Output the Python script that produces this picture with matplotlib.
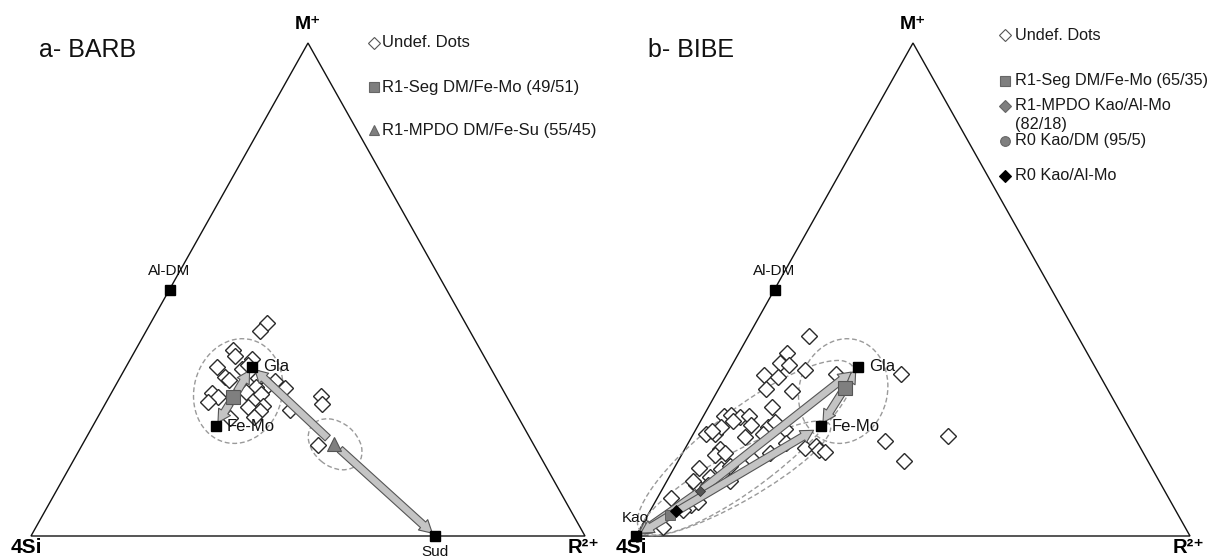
import matplotlib
matplotlib.use("Agg")
import matplotlib.pyplot as plt
from matplotlib.patches import Ellipse, FancyArrowPatch, Polygon

plt.rcParams['font.family'] = ['Liberation Sans', 'DejaVu Sans']

# ---------------- data (ternary fractions: M+ and R2+ ; 4Si = 1 - M - R) ----------------
# Panel a - BARB
barb_undef_m = [0.433, 0.416, 0.377, 0.365, 0.360, 0.343, 0.338, 0.347, 0.322, 0.316,
                0.320, 0.315, 0.306, 0.300, 0.302, 0.293, 0.291, 0.281, 0.272, 0.289,
                0.262, 0.264, 0.254, 0.256, 0.242, 0.239, 0.284, 0.268, 0.185]
barb_undef_r = [0.210, 0.206, 0.177, 0.186, 0.219, 0.164, 0.212, 0.218, 0.189, 0.200,
                0.249, 0.283, 0.274, 0.309, 0.255, 0.242, 0.182, 0.197, 0.183, 0.270,
                0.261, 0.287, 0.287, 0.340, 0.281, 0.239, 0.381, 0.391, 0.425]
barb_end_names = ["Al-DM", "Gla", "Fe-Mo", "Sud"]
barb_end_m = [0.500, 0.343, 0.223, 0.000]
barb_end_r = [0.000, 0.227, 0.222, 0.730]
barb_seg = (0.281, 0.225)      # R1-Seg DM/Fe-Mo (49/51)
barb_mpdo = (0.187, 0.453)     # R1-MPDO DM/Fe-Su (55/45)

# Panel b - BIBE
bibe_undef_m = [0.406, 0.371, 0.351, 0.347, 0.327, 0.323, 0.337, 0.329, 0.329, 0.298,
                0.294, 0.262, 0.243, 0.245, 0.241, 0.243, 0.225, 0.207, 0.207, 0.221,
                0.221, 0.231, 0.217, 0.201, 0.207, 0.189, 0.179, 0.183, 0.174, 0.170,
                0.193, 0.203, 0.152, 0.177, 0.164, 0.138, 0.136, 0.120, 0.154, 0.168,
                0.112, 0.103, 0.112, 0.077, 0.063, 0.069, 0.018, 0.053, 0.142, 0.213,
                0.233, 0.103, 0.168]
bibe_undef_r = [0.110, 0.087, 0.084, 0.103, 0.068, 0.095, 0.137, 0.197, 0.314, 0.086,
                0.135, 0.115, 0.037, 0.049, 0.067, 0.082, 0.095, 0.023, 0.039, 0.043,
                0.128, 0.135, 0.160, 0.096, 0.126, 0.176, 0.216, 0.234, 0.243, 0.256,
                0.353, 0.462, 0.408, 0.063, 0.060, 0.045, 0.085, 0.074, 0.134, 0.158,
                0.114, 0.057, 0.047, 0.025, 0.068, 0.077, 0.040, 0.058, 0.099, 0.031,
                0.058, 0.078, 0.076]
bibe_end_names = ["Al-DM", "Gla", "Fe-Mo", "Kao"]
bibe_end_m = [0.500, 0.343, 0.223, 0.000]
bibe_end_r = [0.000, 0.229, 0.222, 0.000]
bibe_seg = (0.301, 0.227)       # R1-Seg DM/Fe-Mo (65/35)
bibe_mpdo = (0.091, 0.070)      # R1-MPDO Kao/Al-Mo (82/18)
bibe_r0_dm = (0.042, 0.041)     # R0 Kao/DM (95/5)
bibe_r0_almo = (0.050, 0.048)   # R0 Kao/Al-Mo

barb_legend = ["Undef. Dots", "R1-Seg DM/Fe-Mo (49/51)", "R1-MPDO DM/Fe-Su (55/45)"]
bibe_legend = ["Undef. Dots", "R1-Seg DM/Fe-Mo (65/35)", "R1-MPDO Kao/Al-Mo", "(82/18)",
               "R0 Kao/DM (95/5)", "R0 Kao/Al-Mo"]

# ---------------- helpers ----------------
H = 493 / 554  # vertical stretch of the drawn triangle


def tern(m, r):
    return r + m / 2.0, m * H


FIG_W, FIG_H = 1210, 560
fig = plt.figure(figsize=(FIG_W / 100, FIG_H / 100), dpi=100)

XMIN = -31 / 554
YMIN = -24 / 554


def make_ax(left_px):
    ax = fig.add_axes([left_px / FIG_W, 0, 605 / FIG_W, 1])
    ax.set_xlim(XMIN, XMIN + 605 / 554)
    ax.set_ylim(YMIN, YMIN + 560 / 554)
    ax.set_axis_off()
    ax.set_aspect('equal')
    verts = [tern(0, 0), tern(0, 1), tern(1, 0)]
    ax.add_patch(Polygon(verts, closed=True, fill=False, ec='#111111', lw=1.0, zorder=1))
    vfam = ['Liberation Sans', 'DejaVu Sans']
    ax.annotate("M⁺", tern(1, 0), xytext=(0, 13), textcoords='offset points',
                ha='center', va='center', fontsize=14, fontweight='bold', family=vfam)
    ax.annotate("4Si", tern(0, 0), xytext=(-3, -8.5), textcoords='offset points',
                ha='center', va='center', fontsize=15, fontweight='bold', family=vfam)
    ax.annotate("R²⁺", tern(0, 1), xytext=(-1, -8.5), textcoords='offset points',
                ha='center', va='center', fontsize=14.5, fontweight='bold', family=vfam)
    return ax


ARROW_KW = dict(arrowstyle="simple,head_length=0.9,head_width=1.0,tail_width=0.55",
                mutation_scale=10, fc='#c4c4c4', ec='#555555', lw=0.8, zorder=5)


def arrow(ax, a, b, sa=4, sb=4):
    p = FancyArrowPatch(tern(*a), tern(*b), shrinkA=sa, shrinkB=sb, **ARROW_KW)
    ax.add_patch(p)


def ellipse(ax, m, r, w, h, ang):
    ax.add_patch(Ellipse(tern(m, r), w, h, angle=ang, fill=False, ec='#9a9a9a',
                         lw=1.0, ls=(0, (3.5, 2)), zorder=2))


def endmembers(ax, names, ms, rs, offsets):
    for n, m, r in zip(names, ms, rs):
        x, y = tern(m, r)
        ax.plot(x, y, marker='s', ms=6.5, color='black', zorder=8, clip_on=False)
        dx, dy, ha, fs = offsets[n]
        ax.annotate(n, (x, y), xytext=(dx, dy), textcoords='offset points',
                    ha=ha, va='center', fontsize=fs, color='#111111', zorder=9)


def undef(ax, ms, rs):
    xs, ys = zip(*[tern(m, r) for m, r in zip(ms, rs)])
    ax.plot(xs, ys, ls='none', marker='D', ms=8, mfc='white', mec='#2a2a2a',
            mew=1.0, zorder=3)


def legend_marker(ax, xm_px, y_px, marker, ms, fc, ec):
    ax.plot(xm_px / 605, 1 - y_px / FIG_H, marker=marker, ms=ms, mfc=fc, mec=ec,
            mew=0.8, transform=ax.transAxes, clip_on=False, zorder=9)


def legend_text(ax, xt_px, y_px, text, fs=12):
    ax.text(xt_px / 605, 1 - y_px / FIG_H, text, transform=ax.transAxes, ha='left',
            va='center', fontsize=fs, color='#1a1a1a')


# ---------------- panel a ----------------
ax1 = make_ax(0)
ax1.text(38.8 / 605, 1 - 50 / FIG_H, "a- BARB", transform=ax1.transAxes,
         ha='left', va='center', fontsize=18, color='#111111')
ellipse(ax1, 0.294, 0.227, 0.191, 0.159, 75)
ellipse(ax1, 0.186, 0.456, 0.108, 0.079, -40)
undef(ax1, barb_undef_m, barb_undef_r)
bend = {n: (m, r) for n, m, r in zip(barb_end_names, barb_end_m, barb_end_r)}
arrow(ax1, barb_seg, bend["Gla"], 5, 3)
arrow(ax1, barb_seg, bend["Fe-Mo"], 5, 3)
arrow(ax1, barb_mpdo, bend["Gla"], 6, 3)
arrow(ax1, barb_mpdo, bend["Sud"], 6, 3)
x, y = tern(*barb_seg)
ax1.plot(x, y, marker='s', ms=9.5, mfc='#7f7f7f', mec='#555555', mew=0.8, zorder=7)
x, y = tern(*barb_mpdo)
ax1.plot(x, y, marker='^', ms=10, mfc='#7f7f7f', mec='#555555', mew=0.8, zorder=7)
offs_a = {"Al-DM": (0, 13.5, 'center', 11), "Gla": (8, 0, 'left', 12),
          "Fe-Mo": (8, 0, 'left', 12), "Sud": (0, -11.5, 'center', 11)}
endmembers(ax1, barb_end_names, barb_end_m, barb_end_r, offs_a)
legend_marker(ax1, 374, 42.7, 'D', 6, 'white', '#555555')
legend_text(ax1, 382, 42.7, barb_legend[0])
legend_marker(ax1, 374, 87.3, 's', 7, '#7f7f7f', '#666666')
legend_text(ax1, 382, 87.3, barb_legend[1])
legend_marker(ax1, 374, 130, '^', 7.5, '#7f7f7f', '#666666')
legend_text(ax1, 382, 130, barb_legend[2])

# ---------------- panel b ----------------
ax2 = make_ax(605)
ax2.text(42.6 / 605, 1 - 50 / FIG_H, "b- BIBE", transform=ax2.transAxes,
         ha='left', va='center', fontsize=18, color='#111111')
ellipse(ax2, 0.294, 0.227, 0.191, 0.159, 75)
ellipse(ax2, 0.179, 0.109, 0.484, 0.137, 37.7)
ellipse(ax2, 0.117, 0.122, 0.390, 0.087, 29.6)
undef(ax2, bibe_undef_m, bibe_undef_r)
b_end = {n: (m, r) for n, m, r in zip(bibe_end_names, bibe_end_m, bibe_end_r)}
arrow(ax2, bibe_seg, b_end["Gla"], 5, 3)
arrow(ax2, bibe_seg, b_end["Fe-Mo"], 5, 3)
arrow(ax2, bibe_mpdo, b_end["Gla"], 2, 6)
arrow(ax2, bibe_mpdo, b_end["Kao"], 2, 2)
arrow(ax2, bibe_r0_almo, b_end["Fe-Mo"], 2, 6)
arrow(ax2, bibe_r0_almo, b_end["Kao"], 2, 4)
x, y = tern(*bibe_seg)
ax2.plot(x, y, marker='s', ms=9.5, mfc='#7f7f7f', mec='#555555', mew=0.8, zorder=7)
x, y = tern(*bibe_mpdo)
ax2.plot(x, y, marker='D', ms=5, mfc='#555555', mec='#333333', mew=0.6, zorder=7)
x, y = tern(*bibe_r0_dm)
ax2.plot(x, y, marker='s', ms=7, mfc='#7a7a7a', mec='#555555', mew=0.6, zorder=7)
x, y = tern(*bibe_r0_almo)
ax2.plot(x, y, marker='D', ms=6, mfc='black', mec='black', mew=0.6, zorder=7)
offs_b = {"Al-DM": (0, 13.5, 'center', 11), "Gla": (8, 0, 'left', 12),
          "Fe-Mo": (8, 0, 'left', 12), "Kao": (-0.5, 13, 'center', 11)}
endmembers(ax2, bibe_end_names, bibe_end_m, bibe_end_r, offs_b)
LFS = 11.7
legend_marker(ax2, 400, 35, 'D', 6, 'white', '#555555')
legend_text(ax2, 409.7, 35, bibe_legend[0], LFS)
legend_marker(ax2, 400, 80.7, 's', 7, '#7f7f7f', '#666666')
legend_text(ax2, 409.7, 80.7, bibe_legend[1], LFS)
legend_marker(ax2, 400, 106, 'D', 6, '#7f7f7f', '#666666')
legend_text(ax2, 409.7, 106, bibe_legend[2], LFS)
legend_text(ax2, 409.7, 124.5, bibe_legend[3], LFS)
legend_marker(ax2, 400, 140.7, 'o', 7, '#7f7f7f', '#666666')
legend_text(ax2, 409.7, 140.7, bibe_legend[4], LFS)
legend_marker(ax2, 400, 176, 'D', 6, 'black', 'black')
legend_text(ax2, 409.7, 176, bibe_legend[5], LFS)

fig.savefig("out.png", dpi=100)
